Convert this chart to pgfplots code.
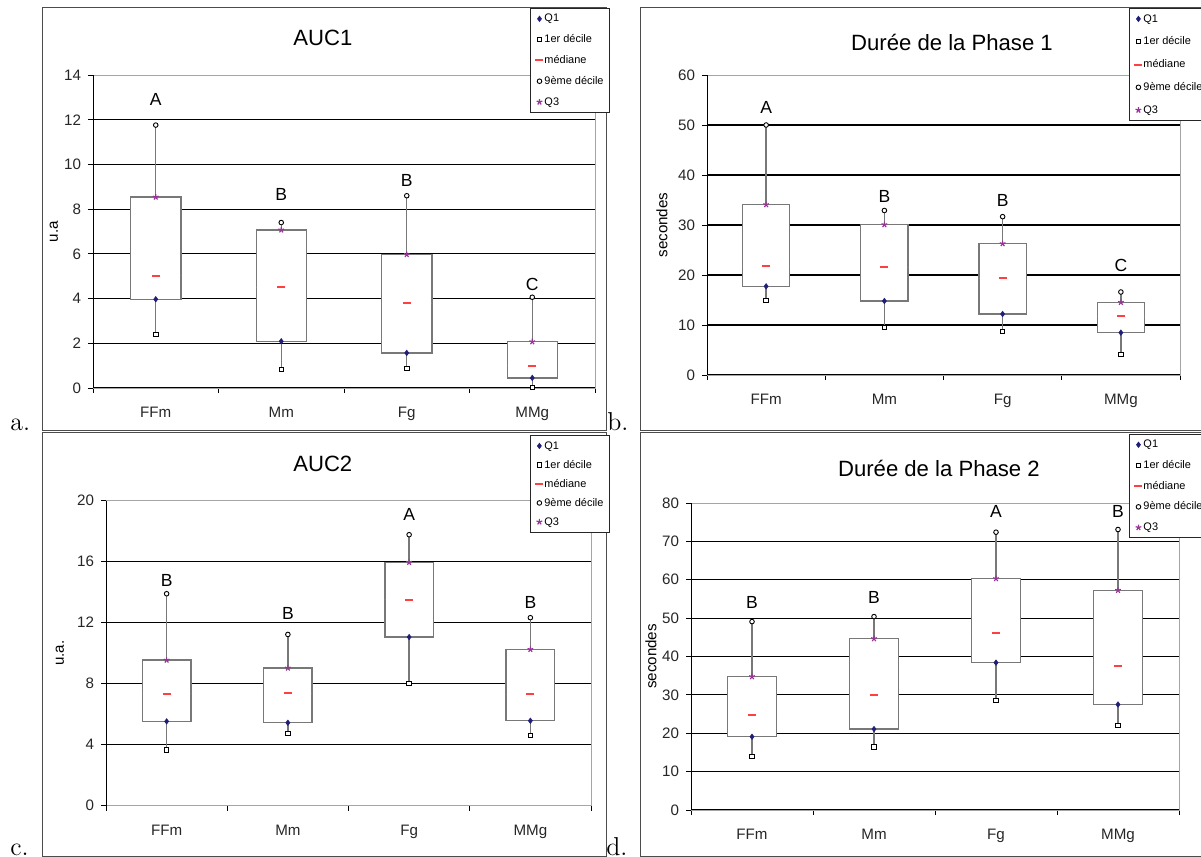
\documentclass[border=0pt]{standalone}
\usepackage{pgfplots}
\pgfplotsset{compat=1.18}
\usepackage{pgfplotstable}
\usepgfplotslibrary{statistics}
\usepackage{fontspec}
\newfontfamily\arial{Liberation Sans}
\definecolor{qone}{RGB}{31,31,122}
\definecolor{qthree}{RGB}{153,51,153}
\definecolor{medred}{RGB}{255,64,64}
\definecolor{boxgray}{RGB}{120,120,120}
\definecolor{bordergray}{RGB}{165,165,165}

% x q1 d1 med d9 q3 lab ly
\pgfplotstableread{
x q1 d1 med d9 q3 lab ly
0 3.97 2.40 5.03 11.76 8.54 A 12.9
1 2.09 0.82 4.51 7.40 7.07 B 8.66
2 1.57 0.87 3.78 8.60 5.97 B 9.27
3 0.45 0.02 0.99 4.06 2.07 C 4.64
}\dataA
\pgfplotstableread{
x q1 d1 med d9 q3 lab ly
0 17.73 14.93 21.8 50.0 34.07 A 53.5
1 14.8 9.53 21.6 32.9 30.07 B 35.7
2 12.2 8.73 19.33 31.67 26.27 B 34.9
3 8.47 4.13 11.8 16.6 14.53 C 21.9
}\dataB
\pgfplotstableread{
x q1 d1 med d9 q3 lab ly
0 5.53 3.65 7.34 13.9 9.55 B 14.75
1 5.44 4.74 7.39 11.23 9.03 B 12.6
2 11.06 8.02 13.49 17.77 15.96 A 19.1
3 5.57 4.61 7.3 12.33 10.25 B 13.36
}\dataC
\pgfplotstableread{
x q1 d1 med d9 q3 lab ly
0 19.1 13.9 24.85 49.1 34.75 B 54.2
1 21.1 16.4 29.9 50.4 44.66 B 55.4
2 38.4 28.6 46.2 72.4 60.3 A 77.8
3 27.5 22.0 37.5 73.1 57.25 B 77.8
}\dataD

\pgfplotsset{
  panel/.style={
    scale only axis, anchor=south west,
    xmin=-0.5, xmax=3.5,
    xtick={-0.5,0.5,1.5,2.5,3.5}, xticklabels={},
    extra x ticks={0,1,2,3}, extra x tick labels={FFm,Mm,Fg,MMg},
    extra x tick style={major tick length=0pt, grid=none, tick label style={yshift=-6bp}},
    tick align=outside, tick pos=left, major tick length=2.5bp,
    tick style={black, line width=0.5bp},
    ymajorgrids, grid style={black, line width=0.55bp},
    extra y tick style={grid=none},
    axis line style={bordergray, line width=0.5bp},
    tick label style={font=\fontsize{7.6}{9}\arial, text=black!85},
    /pgf/number format/assume math mode=true,
    title style={font=\fontsize{11.1}{13}\arial, anchor=center},
    label style={font=\fontsize{7.6}{9}\arial},
    ylabel style={anchor=center},
    boxplot/draw direction=y,
    boxplot/box extend=0.4,
    boxplot/whisker extend=0,
    boxplot/every median/.style={draw=none},
    legend cell align=left,
    legend image code/.code={\draw[##1] plot coordinates {(0bp,0bp)};},
    legend style={anchor=north west, draw=black!85, line width=0.5bp, fill=white,
      font=\fontsize{5.5}{6.5}\arial, inner xsep=2.5bp, inner ysep=2bp,
      nodes={inner sep=0.5bp, text height=4.2bp, text depth=1.1bp}},
    after end axis/.code={\draw[black, line width=0.5bp] (rel axis cs:0,0) -- (rel axis cs:0,1);},
  },
  boxst/.style={draw=boxgray, fill=white, line width=0.65bp, solid, forget plot},
  mq1/.style={only marks, mark=diamond*, mark size=1.35bp, qone, line width=0.3bp},
  md1/.style={only marks, mark=square*, mark size=1.1bp, mark options={fill=white, draw=black}, line width=0.45bp},
  mmed/.style={only marks, mark=-, mark size=2bp, medred, line width=1bp},
  md9/.style={only marks, mark=*, mark size=1.15bp, mark options={fill=white, draw=black}, line width=0.45bp},
  mq3/.style={only marks, mark=star, mark size=1.5bp, qthree, line width=0.6bp},
  letters/.style={only marks, mark=none, nodes near coords, point meta=explicit symbolic,
    nodes near coords style={anchor=center, font=\fontsize{8.8}{10}\arial, text=black}},
}

\newcommand{\markers}[1]{%
  \addplot[mq1] table[x=x,y=q1]{#1}; \addlegendentry{Q1}
  \addplot[md1] table[x=x,y=d1]{#1}; \addlegendentry{1er décile}
  \addplot[mmed] table[x=x,y=med]{#1}; \addlegendentry{médiane}
  \addplot[md9] table[x=x,y=d9]{#1}; \addlegendentry{9ème décile}
  \addplot[mq3] table[x=x,y=q3]{#1}; \addlegendentry{Q3}
  \addplot[letters] table[x=x,y=ly,meta=lab]{#1};
}

\begin{document}
\begin{tikzpicture}
\useasboundingbox (0bp,0bp) rectangle (600.5bp,-428.5bp);
% frames
\draw[black!70, line width=0.5bp] (21bp,-3.5bp) rectangle (303bp,-215bp);
\draw[black!70, line width=0.5bp] (320bp,-3.5bp) rectangle (603bp,-215bp);
\draw[black!70, line width=0.5bp] (21bp,-216bp) rectangle (303bp,-428bp);
\draw[black!70, line width=0.5bp] (320bp,-216bp) rectangle (603bp,-428bp);

% ---------- a ----------
\begin{axis}[panel, at={(46.5bp,-194bp)}, width=251bp, height=156.5bp,
  ymin=0, ymax=14, ytick={0,2,...,12}, extra y ticks={14},
  title={AUC1}, title style={at={(0.458,1.081)}},
  ylabel={u.a}, ylabel style={at={(rel axis cs:-0.078,0.5)}},
  legend style={at={(0.8705,1.214)}, row sep=4.1bp}]
\addplot[boxst, boxplot prepared={draw position=0, lower whisker=2.40, lower quartile=3.97, median=5.03, upper quartile=8.54, upper whisker=11.76}] coordinates {};
\addplot[boxst, boxplot prepared={draw position=1, lower whisker=0.82, lower quartile=2.09, median=4.51, upper quartile=7.07, upper whisker=7.40}] coordinates {};
\addplot[boxst, boxplot prepared={draw position=2, lower whisker=0.87, lower quartile=1.57, median=3.78, upper quartile=5.97, upper whisker=8.60}] coordinates {};
\addplot[boxst, boxplot prepared={draw position=3, lower whisker=0.02, lower quartile=0.45, median=0.99, upper quartile=2.07, upper whisker=4.06}] coordinates {};
\markers{\dataA}
\end{axis}

% ---------- b ----------
\begin{axis}[panel, at={(353.5bp,-187.5bp)}, width=236.5bp, height=150bp,
  ymin=0, ymax=60, ytick={0,10,...,50}, extra y ticks={60},
  title={Durée de la Phase 1}, title style={at={(0.518,1.067)}},
  ylabel={secondes}, ylabel style={at={(rel axis cs:-0.095,0.5)}},
  legend style={at={(0.892,1.223)}, row sep=5.1bp}]
\addplot[boxst, boxplot prepared={draw position=0, lower whisker=14.93, lower quartile=17.73, median=21.8, upper quartile=34.07, upper whisker=50.0}] coordinates {};
\addplot[boxst, boxplot prepared={draw position=1, lower whisker=9.53, lower quartile=14.8, median=21.6, upper quartile=30.07, upper whisker=32.9}] coordinates {};
\addplot[boxst, boxplot prepared={draw position=2, lower whisker=8.73, lower quartile=12.2, median=19.33, upper quartile=26.27, upper whisker=31.67}] coordinates {};
\addplot[boxst, boxplot prepared={draw position=3, lower whisker=4.13, lower quartile=8.47, median=11.8, upper quartile=14.53, upper whisker=16.6}] coordinates {};
\markers{\dataB}
\end{axis}

% ---------- c ----------
\begin{axis}[panel, at={(53bp,-402.85bp)}, width=242.5bp, height=152.5bp,
  ymin=0, ymax=20, ytick={0,4,...,16}, extra y ticks={20},
  title={AUC2}, title style={at={(0.447,1.081)}},
  ylabel={u.a.}, ylabel style={at={(rel axis cs:-0.095,0.5)}},
  legend style={at={(0.874,1.215)}, row sep=3.2bp}]
\addplot[boxst, boxplot prepared={draw position=0, lower whisker=3.65, lower quartile=5.53, median=7.34, upper quartile=9.55, upper whisker=13.9}] coordinates {};
\addplot[boxst, boxplot prepared={draw position=1, lower whisker=4.74, lower quartile=5.44, median=7.39, upper quartile=9.03, upper whisker=11.23}] coordinates {};
\addplot[boxst, boxplot prepared={draw position=2, lower whisker=8.02, lower quartile=11.06, median=13.49, upper quartile=15.96, upper whisker=17.77}] coordinates {};
\addplot[boxst, boxplot prepared={draw position=3, lower whisker=4.61, lower quartile=5.57, median=7.3, upper quartile=10.25, upper whisker=12.33}] coordinates {};
\markers{\dataC}
\end{axis}

% ---------- d ----------
\begin{axis}[panel, at={(345.5bp,-405bp)}, width=244bp, height=153.5bp,
  ymin=0, ymax=80, ytick={0,10,...,70}, extra y ticks={80},
  title={Durée de la Phase 2}, title style={at={(0.508,1.074)}},
  ylabel={secondes}, ylabel style={at={(rel axis cs:-0.082,0.5)}},
  legend style={at={(0.8975,1.225)}, row sep=4.05bp}]
\addplot[boxst, boxplot prepared={draw position=0, lower whisker=13.9, lower quartile=19.1, median=24.85, upper quartile=34.75, upper whisker=49.1}] coordinates {};
\addplot[boxst, boxplot prepared={draw position=1, lower whisker=16.4, lower quartile=21.1, median=29.9, upper quartile=44.66, upper whisker=50.4}] coordinates {};
\addplot[boxst, boxplot prepared={draw position=2, lower whisker=28.6, lower quartile=38.4, median=46.2, upper quartile=60.3, upper whisker=72.4}] coordinates {};
\addplot[boxst, boxplot prepared={draw position=3, lower whisker=22.0, lower quartile=27.5, median=37.5, upper quartile=57.25, upper whisker=73.1}] coordinates {};
\markers{\dataD}
\end{axis}

% panel letters
\node[anchor=base west, inner sep=0, font=\fontsize{13}{15}\selectfont] at (5bp,-215bp) {a.};
\node[anchor=base west, inner sep=0, font=\fontsize{13}{15}\selectfont] at (303.5bp,-215bp) {b.};
\node[anchor=base west, inner sep=0, font=\fontsize{13}{15}\selectfont] at (5bp,-427.5bp) {c.};
\node[anchor=base west, inner sep=0, font=\fontsize{13}{15}\selectfont] at (303bp,-427.5bp) {d.};
\end{tikzpicture}
\end{document}
